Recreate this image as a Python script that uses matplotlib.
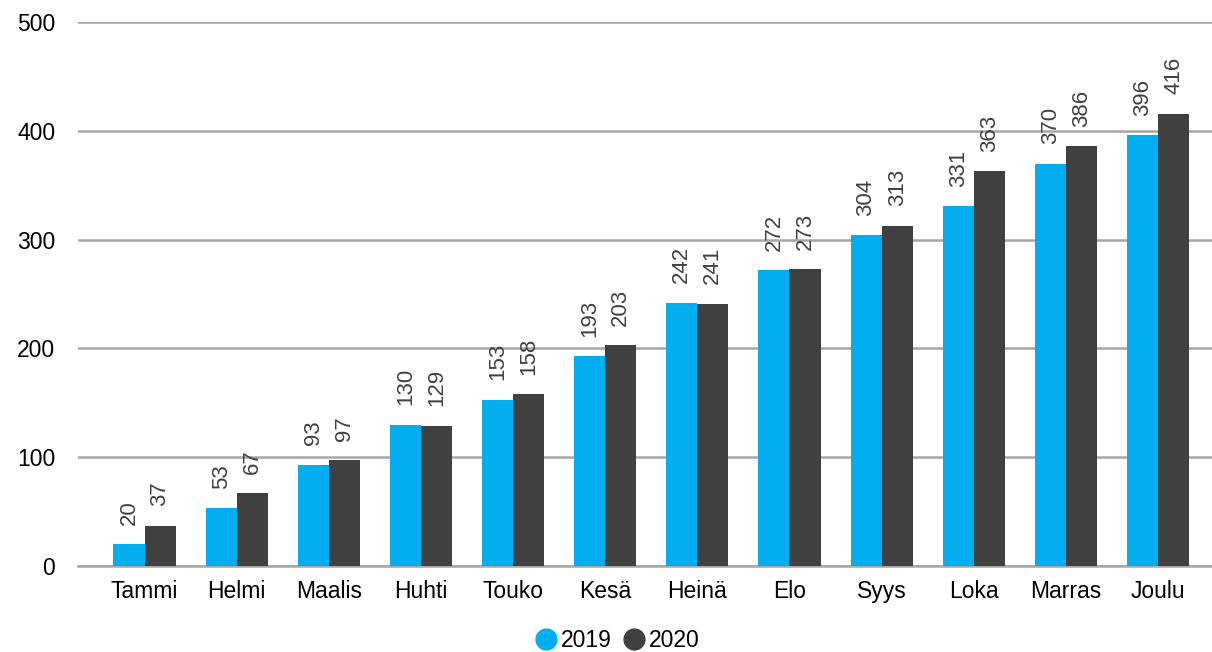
import numpy as np
import matplotlib
matplotlib.use('Agg')
import matplotlib.pyplot as plt

months = ['Tammi', 'Helmi', 'Maalis', 'Huhti', 'Touko', 'Kesä',
          'Heinä', 'Elo', 'Syys', 'Loka', 'Marras', 'Joulu']
values_2019 = [20, 53, 93, 130, 153, 193, 242, 272, 304, 331, 370, 396]
values_2020 = [37, 67, 97, 129, 158, 203, 241, 273, 313, 363, 386, 416]
yticks = [0, 100, 200, 300, 400, 500]

plt.rcParams['font.family'] = ['Liberation Sans', 'DejaVu Sans']
FS = 16.5

fig = plt.figure(figsize=(12.12, 6.52), dpi=100)
ax = fig.add_axes([0.064, 0.132, 0.936, 0.834])

x = np.arange(len(months))
w = 0.337
b1 = ax.bar(x - w / 2, values_2019, w, color='#00AEEF', label='2019', zorder=3)
b2 = ax.bar(x + w / 2, values_2020, w, color='#404040', label='2020', zorder=3)

# value labels, rotated
for bars in (b1, b2):
    for r in bars:
        ax.annotate(str(int(r.get_height())),
                    (r.get_x() + r.get_width() / 2, r.get_height()),
                    xytext=(0, 14), textcoords='offset points',
                    rotation=90, ha='center', va='bottom', fontsize=16, color='#404040')

ax.set_xlim(-0.727, len(months) - 0.414)
ax.set_ylim(0, 500)
ax.set_yticks(yticks)
ax.set_xticks(x)
ax.set_xticklabels(months)
ax.tick_params(axis='both', length=0, labelsize=FS, colors='#000000')
ax.tick_params(axis='y', pad=16)
ax.tick_params(axis='x', pad=10)
ax.yaxis.grid(True, color='#A6A6A6', linewidth=1.8, zorder=0)
for s in ['top', 'right', 'left']:
    ax.spines[s].set_visible(False)
ax.spines['bottom'].set_color('#A6A6A6')
ax.spines['bottom'].set_linewidth(1.8)

leg = fig.legend(handles=[
    plt.Line2D([], [], marker='o', linestyle='', markersize=15, color='#00AEEF', label='2019'),
    plt.Line2D([], [], marker='o', linestyle='', markersize=15, color='#404040', label='2020')],
    loc='center', bbox_to_anchor=(0.509, 0.017), ncol=2, frameon=False, fontsize=FS,
    handletextpad=0.15, columnspacing=0.45, handlelength=1.0)

fig.savefig('out.png', dpi=100)
